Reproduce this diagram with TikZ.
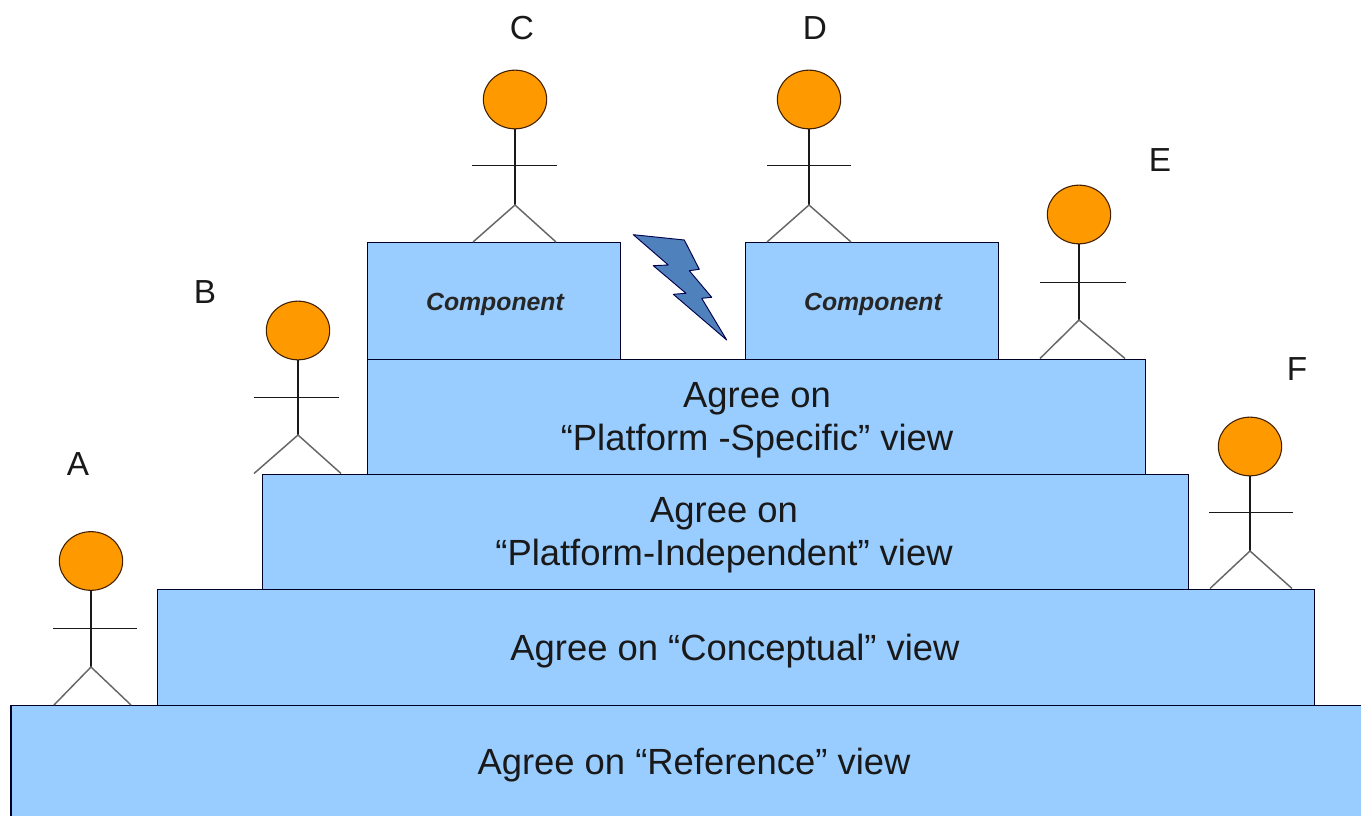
\documentclass[tikz,border=0pt]{standalone}
\usepackage{fontspec}
\usetikzlibrary{shapes.geometric}
\setmainfont{Liberation Sans}
\definecolor{blockblue}{HTML}{99CCFF}
\definecolor{headorange}{HTML}{FF9900}
\definecolor{boltblue}{HTML}{4F81BD}
\begin{document}
\begin{tikzpicture}[x=0.75pt,y=-0.75pt,
  block/.style={draw=black!85!blue,line width=1.2pt,fill=blockblue,anchor=north west,inner sep=0pt,outer sep=0pt},
  head/.style={draw=black!75!orange,line width=0.8pt,fill=headorange,ellipse,inner sep=0pt,outer sep=0pt,minimum width=47.5pt,minimum height=44pt},
  limb/.style={draw=black!90,line width=1.1pt},
  leg/.style={draw=black!60,line width=1.1pt},
  bigtext/.style={font=\fontsize{27.3}{32.4}\selectfont,text=black!90,align=center,inner sep=0pt},
  lettertext/.style={font=\fontsize{25}{30}\selectfont,text=black!90,inner sep=0pt},
  comptext/.style={font=\fontsize{18.6}{22}\selectfont\bfseries\itshape,text=black!85,inner sep=0pt}]
\useasboundingbox (0,0) rectangle (1361,816);
% blocks
\node[block,minimum width=1352*0.75pt,minimum height=113*0.75pt] (ref) at (11,705.5) {};
\node[block,minimum width=1157*0.75pt,minimum height=116*0.75pt] (con) at (157.5,589.5) {};
\node[block,minimum width=926*0.75pt,minimum height=115*0.75pt] (ind) at (262.5,474.5) {};
\node[block,minimum width=778*0.75pt,minimum height=115*0.75pt] (spe) at (367.5,359.5) {};
\node[block,minimum width=253*0.75pt,minimum height=117*0.75pt] (c1) at (367.5,242.5) {};
\node[block,minimum width=253*0.75pt,minimum height=117*0.75pt] (c2) at (745.5,242.5) {};
% block texts
\node[bigtext] (tref) at (694,765) {Agree on “Reference” view};
\node[bigtext] (tcon) at (735,651) {Agree on “Conceptual” view};
\node[bigtext] (tind) at (724,535) {Agree on\\“Platform-Independent” view};
\node[bigtext] (tspe) at (757,420) {Agree on\\“Platform -Specific” view};
\node[comptext] (tc1) at (495,304) {Component};
\node[comptext] (tc2) at (873,304) {Component};
% bolt
\draw[draw=black!70!blue,line width=0.7pt,fill=boltblue,line join=round]
 (633.3,234.7) -- (684.3,240) -- (699.3,269.3) -- (689.3,270.7) -- (711.7,297.3) -- (701.7,298.3)
 -- (726.7,340) -- (673.3,294.3) -- (686,293.3) -- (653.3,265.7) -- (668.3,265) -- cycle;
% actors: name/body x/head y/arm l/arm r/arm y/hip y/leg l/leg r/floor y
\foreach \n/\bx/\hy/\al/\ar/\ay/\hp/\ll/\lr/\fl in {%
  A/91/561/53/137/628.5/667/54/131/705,
  B/298/330.5/254/339/397.5/435/254/341/473.5,
  C/515/99.5/472/557/165.5/205/473/556/242,
  D/809/99.5/767/851/165.5/205/767/851/242,
  E/1079/214.5/1040/1126/282.5/320/1040/1125/358.5,
  F/1250/446.5/1209/1293/512.5/551/1210/1292/588.5}{%
  \node[head] (h\n) at (\bx,\hy) {};
  \coordinate (hip\n) at (\bx,\hp);
  \coordinate (arml\n) at (\al,\ay);
  \coordinate (armr\n) at (\ar,\ay);
  \coordinate (legl\n) at (\ll,\fl);
  \coordinate (legr\n) at (\lr,\fl);
  \draw[limb] (h\n.south) -- (hip\n);
  \draw[limb] (arml\n) -- (armr\n);
  \draw[leg] (legl\n) -- (hip\n) -- (legr\n);
}
% letters
\node[lettertext] (la) at (78,464) {A};
\node[lettertext] (lb) at (205,292) {B};
\node[lettertext] (lc) at (522,28) {C};
\node[lettertext] (ld) at (815,28) {D};
\node[lettertext] (le) at (1160,160) {E};
\node[lettertext] (lf) at (1297,369) {F};
\end{tikzpicture}
\end{document}
